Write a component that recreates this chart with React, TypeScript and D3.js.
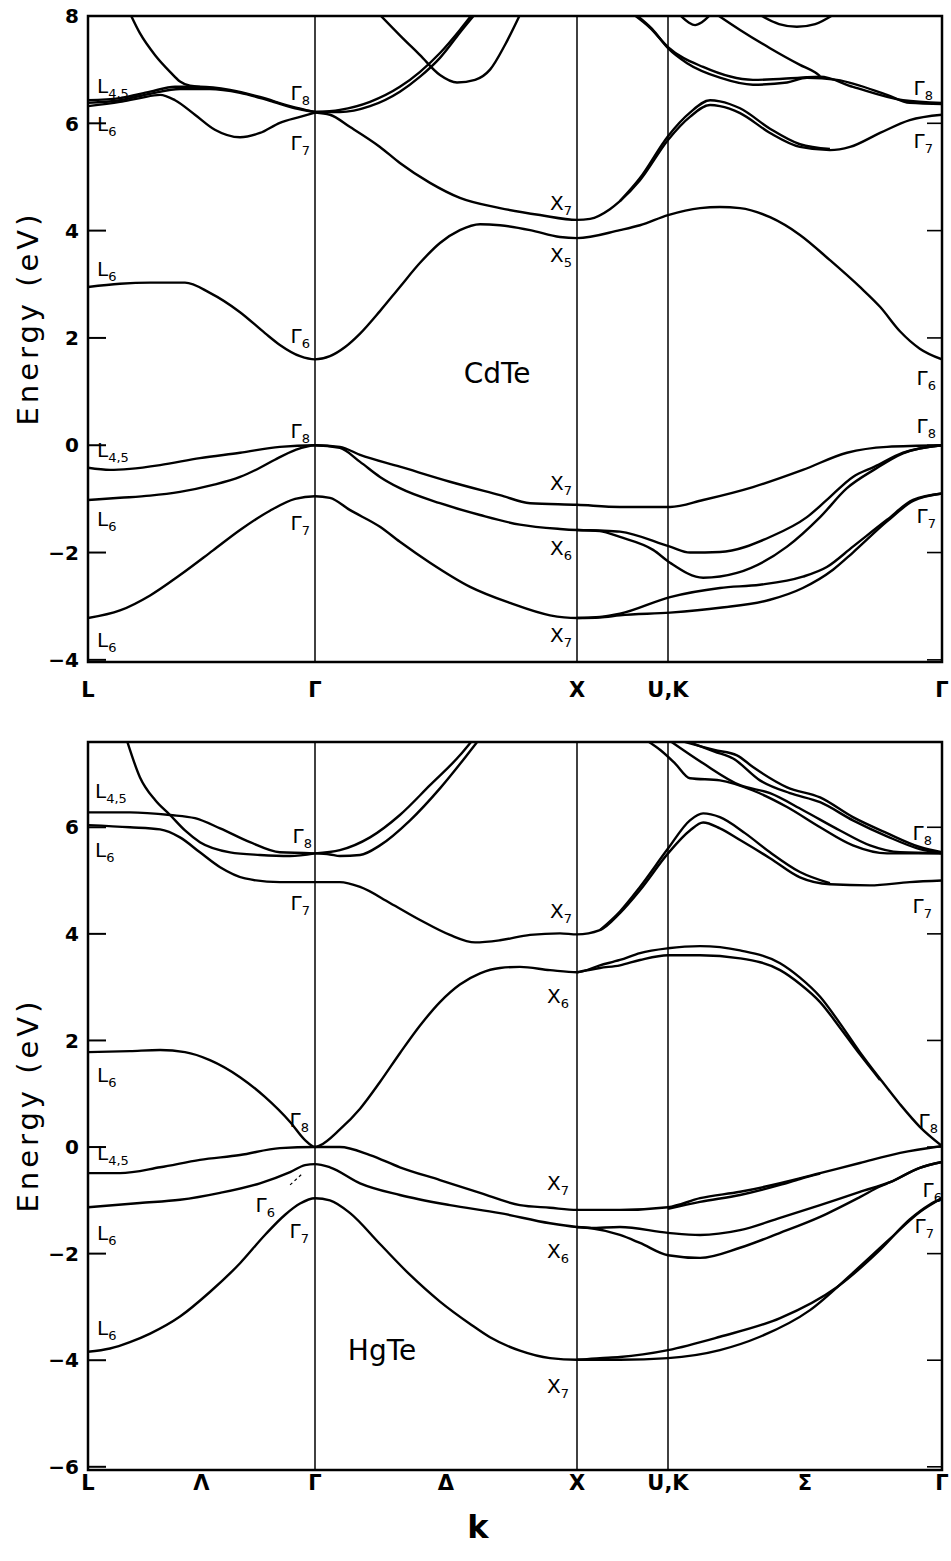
import React from "react";
import * as d3 from "d3";

type Pt = [number, number];

// symmetry points along the k path (units of 2π/a)
const symK = [0, 0.866, 1.866, 2.22, 3.281];
const kLabelsTop = ["L", "Γ", "X", "U,K", "Γ"];
const kLabelsBottom = ["L", "Λ", "Γ", "Δ", "X", "U,K", "Σ", "Γ"];
const kLabelsBottomK = [0, 0.433, 0.866, 1.366, 1.866, 2.22, 2.75, 3.281];
const cdteTicks = [8, 6, 4, 2, 0, -2, -4];
const hgteTicks = [6, 4, 2, 0, -2, -4, -6];

// ---------- CdTe bands ----------
const cdteV3a: Pt[] = [[0,-3.22],[0.122,-3.08],[0.237,-2.8],[0.351,-2.42],[0.477,-1.96],[0.58,-1.58],[0.694,-1.22],[0.79,-1.0],[0.866,-0.95],[0.923,-0.98],[1.0,-1.21],[1.114,-1.52],[1.19,-1.8],[1.305,-2.19],[1.458,-2.64],[1.61,-2.94],[1.763,-3.17],[1.866,-3.22],[1.955,-3.2],[2.033,-3.14],[2.228,-2.83],[2.421,-2.66],[2.576,-2.6],[2.742,-2.45],[2.835,-2.27],[2.936,-1.89],[3.068,-1.39],[3.169,-1.02],[3.281,-0.9]];
const cdteV3b: Pt[] = [[1.866,-3.22],[1.955,-3.21],[2.033,-3.17],[2.228,-3.12],[2.421,-3.03],[2.615,-2.88],[2.742,-2.66],[2.859,-2.32],[2.936,-2.0],[3.068,-1.42],[3.169,-1.04],[3.281,-0.9]];
const cdteV2: Pt[] = [[0,-1.02],[0.122,-0.98],[0.237,-0.94],[0.351,-0.87],[0.477,-0.74],[0.58,-0.59],[0.656,-0.42],[0.713,-0.27],[0.79,-0.09],[0.866,0],[0.961,-0.05],[1.038,-0.31],[1.114,-0.59],[1.19,-0.8],[1.343,-1.08],[1.496,-1.3],[1.648,-1.48],[1.801,-1.56],[1.866,-1.58],[1.955,-1.59],[2.033,-1.61],[2.228,-1.89],[2.305,-2.0],[2.421,-1.99],[2.615,-1.71],[2.758,-1.34],[2.835,-1.02],[2.936,-0.59],[3.02,-0.4],[3.13,-0.14],[3.281,0]];
const cdteV2b: Pt[] = [[1.866,-1.58],[1.955,-1.6],[2.033,-1.71],[2.162,-1.95],[2.228,-2.19],[2.356,-2.47],[2.487,-2.38],[2.681,-1.89],[2.809,-1.34],[2.913,-0.8],[3.02,-0.45],[3.13,-0.15],[3.281,0]];
const cdteV1: Pt[] = [[0,-0.42],[0.084,-0.46],[0.16,-0.44],[0.275,-0.37],[0.427,-0.24],[0.58,-0.14],[0.732,-0.03],[0.866,0],[0.961,-0.03],[1.038,-0.18],[1.19,-0.4],[1.381,-0.68],[1.572,-0.93],[1.687,-1.08],[1.866,-1.11],[2.033,-1.15],[2.228,-1.15],[2.356,-1.02],[2.549,-0.78],[2.742,-0.46],[2.913,-0.14],[3.068,-0.03],[3.281,0]];
const cdteC1: Pt[] = [[0,2.95],[0.122,3.01],[0.237,3.03],[0.37,3.03],[0.465,2.84],[0.58,2.48],[0.675,2.09],[0.732,1.87],[0.809,1.66],[0.866,1.6],[0.923,1.66],[0.981,1.83],[1.038,2.08],[1.114,2.5],[1.19,2.95],[1.267,3.4],[1.343,3.77],[1.419,4.01],[1.496,4.12],[1.572,4.1],[1.687,4.01],[1.801,3.88],[1.866,3.86],[2.033,4.01],[2.111,4.1],[2.22,4.29],[2.344,4.42],[2.421,4.44],[2.499,4.42],[2.615,4.25],[2.731,3.92],[2.847,3.45],[2.963,2.95],[3.041,2.58],[3.119,2.12],[3.195,1.8],[3.281,1.6]];
const cdteC2: Pt[] = [[0.866,6.2],[0.923,6.16],[1.0,5.93],[1.114,5.56],[1.19,5.26],[1.305,4.89],[1.419,4.61],[1.572,4.42],[1.725,4.29],[1.866,4.2],[1.917,4.22],[1.994,4.4],[2.033,4.55],[2.111,4.94],[2.22,5.69],[2.305,6.12],[2.383,6.34],[2.421,6.32],[2.499,6.19],[2.615,5.82],[2.731,5.56],[2.847,5.5],[2.925,5.56],[3.041,5.82],[3.156,6.06],[3.281,6.16]];
const cdteC2b: Pt[] = [[2.033,4.55],[2.111,4.98],[2.22,5.76],[2.305,6.2],[2.383,6.43],[2.421,6.41],[2.499,6.28],[2.615,5.9],[2.731,5.61],[2.847,5.52]];
const cdteC3: Pt[] = [[0,6.43],[0.122,6.47],[0.237,6.59],[0.332,6.68],[0.427,6.68],[0.542,6.62],[0.656,6.49],[0.771,6.32],[0.866,6.21]];
const cdteC3b: Pt[] = [[0,6.38],[0.122,6.43],[0.237,6.55],[0.351,6.64],[0.465,6.64],[0.58,6.57],[0.694,6.42],[0.79,6.28],[0.866,6.21]];
const cdteC4: Pt[] = [[0,6.32],[0.122,6.4],[0.198,6.47],[0.275,6.53],[0.332,6.43],[0.408,6.16],[0.484,5.88],[0.58,5.74],[0.656,5.82],[0.732,6.01],[0.809,6.12],[0.866,6.2]];
const cdteSteep: Pt[] = [[0.16,8.05],[0.198,7.68],[0.256,7.27],[0.313,6.96],[0.351,6.78],[0.389,6.7],[0.427,6.68]];
const cdteG8a: Pt[] = [[0.866,6.21],[0.961,6.25],[1.076,6.4],[1.19,6.68],[1.267,6.96],[1.343,7.31],[1.419,7.74],[1.458,7.98],[1.477,8.1]];
const cdteG8b: Pt[] = [[0.866,6.21],[0.961,6.21],[1.076,6.32],[1.19,6.59],[1.267,6.87],[1.343,7.22],[1.427,7.74],[1.488,8.1]];
const cdteVee: Pt[] = [[1.114,8.02],[1.19,7.64],[1.267,7.27],[1.343,6.9],[1.408,6.76],[1.477,6.81],[1.534,7.0],[1.591,7.46],[1.648,8.02]];
const cdteP: Pt[] = [[2.08,8.05],[2.15,7.78],[2.22,7.42],[2.356,7.05],[2.549,6.81],[2.731,6.85],[2.809,6.87],[2.936,6.68],[3.13,6.43],[3.281,6.38]];
const cdteQ: Pt[] = [[2.088,8.05],[2.158,7.76],[2.22,7.4],[2.294,7.12],[2.421,6.85],[2.549,6.72],[2.681,6.76],[2.758,6.85],[2.874,6.81],[3.068,6.53],[3.156,6.38],[3.281,6.36]];
const cdteR: Pt[] = [[2.402,8.05],[2.499,7.74],[2.615,7.4],[2.731,7.09],[2.789,6.95],[2.809,6.88]];
const cdteArc1: Pt[] = [[2.266,8.02],[2.3,7.88],[2.325,7.83],[2.35,7.88],[2.383,8.02]];
const cdteArc2: Pt[] = [[2.576,8.02],[2.65,7.85],[2.719,7.8],[2.79,7.85],[2.859,8.02]];

// ---------- HgTe bands ----------
const hgA: Pt[] = [[0,6.28],[0.16,6.28],[0.313,6.23],[0.408,6.17],[0.504,5.98],[0.618,5.72],[0.732,5.53],[0.866,5.51]];
const hgB: Pt[] = [[0,6.04],[0.16,6.0],[0.275,5.96],[0.351,5.81],[0.427,5.53],[0.504,5.25],[0.599,5.04],[0.732,4.97],[0.866,4.97],[0.961,4.97],[1.038,4.88],[1.152,4.58],[1.267,4.26],[1.381,3.98],[1.477,3.84],[1.572,3.88],[1.687,3.98],[1.801,4.01],[1.866,3.99],[1.955,4.07],[2.033,4.39],[2.111,4.82],[2.22,5.51],[2.305,5.94],[2.356,6.09],[2.421,5.98],[2.499,5.76],[2.615,5.42],[2.731,5.06],[2.847,4.93],[3.002,4.91],[3.156,4.97],[3.281,5.0]];
const hgBb: Pt[] = [[1.955,4.07],[2.033,4.42],[2.111,4.88],[2.22,5.6],[2.305,6.13],[2.356,6.26],[2.421,6.19],[2.518,5.89],[2.615,5.53],[2.731,5.16],[2.847,4.95]];
const hgSteep: Pt[] = [[0.149,7.62],[0.198,6.94],[0.256,6.51],[0.313,6.23],[0.37,5.94],[0.427,5.72],[0.542,5.53],[0.656,5.48],[0.771,5.46],[0.866,5.51]];
const hgG8a: Pt[] = [[0.866,5.51],[0.961,5.57],[1.076,5.81],[1.19,6.23],[1.305,6.79],[1.419,7.35],[1.465,7.62]];
const hgG8b: Pt[] = [[0.866,5.51],[0.923,5.49],[0.961,5.46],[1.038,5.48],[1.114,5.66],[1.229,6.13],[1.343,6.73],[1.439,7.31],[1.488,7.62]];
const hgP: Pt[] = [[2.14,7.62],[2.19,7.45],[2.247,7.2],[2.305,6.92],[2.421,6.88],[2.549,6.69],[2.681,6.38],[2.809,6.0],[2.936,5.66],[3.068,5.51],[3.281,5.51]];
const hgQ: Pt[] = [[2.228,7.62],[2.356,7.2],[2.499,6.79],[2.615,6.64],[2.743,6.32],[2.886,5.94],[3.002,5.66],[3.119,5.53],[3.281,5.51]];
const hgR: Pt[] = [[2.27,7.62],[2.4,7.45],[2.487,7.35],[2.549,7.13],[2.681,6.75],[2.809,6.56],[2.936,6.19],[3.068,5.89],[3.195,5.63],[3.281,5.53]];
const hgS: Pt[] = [[2.29,7.62],[2.4,7.42],[2.472,7.29],[2.576,6.88],[2.692,6.64],[2.809,6.47],[2.936,6.13],[3.068,5.83],[3.195,5.59],[3.281,5.51]];
const hgC: Pt[] = [[0,1.78],[0.16,1.8],[0.275,1.82],[0.37,1.78],[0.465,1.63],[0.58,1.31],[0.675,0.94],[0.771,0.47],[0.828,0.13],[0.866,0],[0.885,0.03],[0.961,0.33],[1.038,0.72],[1.114,1.22],[1.19,1.76],[1.267,2.28],[1.343,2.72],[1.419,3.05],[1.496,3.26],[1.572,3.36],[1.648,3.38],[1.763,3.32],[1.866,3.28],[1.955,3.41],[2.033,3.51],[2.111,3.64],[2.22,3.73],[2.344,3.77],[2.499,3.69],[2.654,3.45],[2.731,3.18],[2.809,2.82],[2.886,2.32],[2.963,1.78],[3.041,1.28],[3.119,0.8],[3.195,0.38],[3.281,0.02]];
const hgCb: Pt[] = [[1.866,3.28],[1.955,3.36],[2.033,3.41],[2.111,3.51],[2.22,3.6],[2.344,3.6],[2.499,3.54],[2.654,3.32],[2.731,3.06],[2.809,2.72],[2.886,2.24],[2.963,1.74],[3.041,1.26]];
const hgV1: Pt[] = [[0,-0.49],[0.122,-0.49],[0.275,-0.38],[0.427,-0.24],[0.58,-0.15],[0.732,-0.02],[0.866,0],[0.961,0],[1.076,-0.15],[1.19,-0.38],[1.343,-0.62],[1.496,-0.86],[1.648,-1.09],[1.763,-1.14],[1.866,-1.18],[2.033,-1.18],[2.22,-1.13],[2.344,-0.96],[2.499,-0.84],[2.654,-0.68],[2.809,-0.49],[2.963,-0.3],[3.119,-0.11],[3.281,0.02]];
const hgV1b: Pt[] = [[2.22,-1.16],[2.344,-1.03],[2.499,-0.9],[2.654,-0.71],[2.731,-0.6],[2.809,-0.5]];
const hgV2: Pt[] = [[0,-1.13],[0.198,-1.05],[0.351,-0.99],[0.504,-0.86],[0.656,-0.68],[0.771,-0.47],[0.828,-0.34],[0.866,-0.32],[0.923,-0.38],[1.038,-0.68],[1.19,-0.9],[1.381,-1.09],[1.572,-1.24],[1.763,-1.43],[1.866,-1.5],[1.917,-1.52],[2.033,-1.5],[2.22,-1.61],[2.344,-1.65],[2.499,-1.56],[2.654,-1.33],[2.809,-1.09],[2.963,-0.84],[3.08,-0.66],[3.195,-0.39],[3.281,-0.28]];
const hgV2b: Pt[] = [[1.866,-1.5],[1.917,-1.52],[2.033,-1.65],[2.111,-1.8],[2.22,-2.03],[2.344,-2.08],[2.499,-1.89],[2.654,-1.61],[2.809,-1.31],[2.963,-0.94],[3.041,-0.74],[3.08,-0.66],[3.195,-0.39],[3.281,-0.28]];
const hgV3: Pt[] = [[0,-3.84],[0.084,-3.78],[0.16,-3.66],[0.237,-3.5],[0.351,-3.18],[0.465,-2.72],[0.58,-2.18],[0.675,-1.65],[0.752,-1.27],[0.809,-1.06],[0.866,-0.96],[0.923,-1.0],[1.0,-1.24],[1.114,-1.82],[1.229,-2.4],[1.343,-2.9],[1.458,-3.32],[1.534,-3.57],[1.648,-3.82],[1.763,-3.96],[1.866,-3.99],[1.955,-3.96],[2.033,-3.94],[2.22,-3.81],[2.421,-3.56],[2.654,-3.21],[2.874,-2.63],[3.041,-1.93],[3.156,-1.36],[3.234,-1.08],[3.281,-0.96]];
const hgV3b: Pt[] = [[1.866,-3.99],[1.955,-3.99],[2.033,-3.99],[2.22,-3.96],[2.421,-3.81],[2.576,-3.56],[2.77,-3.06],[2.936,-2.36],[3.08,-1.72],[3.195,-1.22],[3.281,-0.96]];
const hgArrow: Pt[] = [[0.771,-0.71],[0.82,-0.49]];

const cdteBands = [cdteV3a, cdteV3b, cdteV2, cdteV2b, cdteV1, cdteC1, cdteC2, cdteC2b, cdteC3, cdteC3b, cdteC4, cdteSteep, cdteG8a, cdteG8b, cdteVee, cdteP, cdteQ, cdteR, cdteArc1, cdteArc2];
const hgteBands = [hgA, hgB, hgBb, hgSteep, hgG8a, hgG8b, hgP, hgQ, hgR, hgS, hgC, hgCb, hgV1, hgV1b, hgV2, hgV2b, hgV3, hgV3b];

// state labels: symbol, subscript, symmetry point index, energy, anchor, dx
type Lab = [string, string, number, number, string, number];
const cdteLabels: Lab[] = [
  ["L", "4,5", 0, 6.56, "start", 9], ["L", "6", 0, 5.85, "start", 9], ["L", "6", 0, 3.16, "start", 9],
  ["L", "4,5", 0, -0.22, "start", 9], ["L", "6", 0, -1.5, "start", 9], ["L", "6", 0, -3.76, "start", 9],
  ["Γ", "8", 1, 6.43, "end", -5], ["Γ", "7", 1, 5.5, "end", -5], ["Γ", "6", 1, 1.9, "end", -5],
  ["Γ", "8", 1, 0.14, "end", -5], ["Γ", "7", 1, -1.58, "end", -5],
  ["X", "7", 2, 4.38, "end", -5], ["X", "5", 2, 3.42, "end", -5], ["X", "7", 2, -0.83, "end", -5],
  ["X", "6", 2, -2.04, "end", -5], ["X", "7", 2, -3.67, "end", -5],
  ["Γ", "8", 4, 6.53, "end", -9], ["Γ", "7", 4, 5.54, "end", -9], ["Γ", "6", 4, 1.12, "end", -6],
  ["Γ", "8", 4, 0.23, "end", -6], ["Γ", "7", 4, -1.45, "end", -6],
];
const hgteLabels: Lab[] = [
  ["L", "4,5", 0, 6.54, "start", 7], ["L", "6", 0, 5.44, "start", 7], ["L", "6", 0, 1.22, "start", 9],
  ["L", "4,5", 0, -0.24, "start", 9], ["L", "6", 0, -1.74, "start", 9], ["L", "6", 0, -3.53, "start", 9],
  ["Γ", "8", 1, 5.7, "end", -3], ["Γ", "7", 1, 4.44, "end", -5], ["Γ", "8", 1, 0.38, "end", -6],
  ["Γ", "6", 1, -1.22, "end", -40], ["Γ", "7", 1, -1.71, "end", -6],
  ["X", "7", 2, 4.29, "end", -5], ["X", "6", 2, 2.7, "end", -8], ["X", "7", 2, -0.81, "end", -8],
  ["X", "6", 2, -2.08, "end", -8], ["X", "7", 2, -4.61, "end", -8],
  ["Γ", "8", 4, 5.76, "end", -10], ["Γ", "7", 4, 4.39, "end", -10], ["Γ", "8", 4, 0.36, "end", -4],
  ["Γ", "6", 4, -0.94, "end", 0], ["Γ", "7", 4, -1.61, "end", -8],
];

const FONT = "DejaVu Sans, Liberation Sans, sans-serif";
const LEFT = 88, RIGHT = 942;
const x = d3.scaleLinear().domain(symK).range([LEFT, 315, 577, 668, RIGHT]);

type PanelProps = {
  id: string;
  bands: Pt[][];
  labels: Lab[];
  yDomain: [number, number];
  yRange: [number, number];
  ticks: number[];
  material: string;
  matK: number;
  matE: number;
  yLabelY: number;
  dashed?: Pt[];
};

function Panel(p: PanelProps) {
  const y = d3.scaleLinear().domain(p.yDomain).range(p.yRange);
  const line = d3.line<Pt>().x((d) => x(d[0])).y((d) => y(d[1])).curve(d3.curveMonotoneX);
  const [y0, y1] = [p.yRange[1], p.yRange[0]];
  return (
    <g>
      <defs>
        <clipPath id={p.id}>
          <rect x={LEFT} y={y0} width={RIGHT - LEFT} height={y1 - y0} />
        </clipPath>
      </defs>
      {/* symmetry lines */}
      {symK.slice(1, 4).map((k, i) => (
        <line key={i} x1={x(k)} x2={x(k)} y1={y0} y2={y1} stroke="#111" strokeWidth={1.6} />
      ))}
      <g clipPath={`url(#${p.id})`} fill="none" stroke="#000" strokeWidth={2.4} strokeLinejoin="round">
        {p.bands.map((b, i) => (
          <path key={i} d={line(b) || ""} />
        ))}
        {p.dashed && (
          <path d={d3.line<Pt>().x((d) => x(d[0])).y((d) => y(d[1]))(p.dashed) || ""} strokeWidth={1.2} strokeDasharray="3,3" />
        )}
      </g>
      <rect x={LEFT} y={y0} width={RIGHT - LEFT} height={y1 - y0} fill="none" stroke="#000" strokeWidth={2.5} />
      {/* ticks */}
      {p.ticks.map((t) => (
        <g key={t}>
          {y(t) > y0 + 2 && y(t) < y1 - 2 && (
            <>
              <line x1={LEFT} x2={LEFT + 18} y1={y(t)} y2={y(t)} stroke="#000" strokeWidth={2} />
              <line x1={RIGHT - 15} x2={RIGHT} y1={y(t)} y2={y(t)} stroke="#000" strokeWidth={1.6} />
            </>
          )}
          <text x={79} y={y(t)} dy="0.36em" textAnchor="end" fontFamily={FONT} fontWeight="bold" fontSize={20}>
            {t < 0 ? `−${-t}` : t}
          </text>
        </g>
      ))}
      {/* state labels */}
      {p.labels.map((l, i) => (
        <text key={i} x={x(symK[l[2]]) + l[5]} y={y(l[3])} textAnchor={l[4]} fontFamily={FONT} fontSize={20}>
          {l[0]}
          <tspan fontSize={13} dy={5}>{l[1]}</tspan>
        </text>
      ))}
      <text x={x(p.matK)} y={y(p.matE)} textAnchor="middle" fontFamily={FONT} fontSize={28}>
        {p.material}
      </text>
      <text
        transform={`translate(38,${p.yLabelY}) rotate(-90)`}
        textAnchor="middle"
        fontFamily={FONT}
        fontSize={29}
        letterSpacing={4}
      >
        Energy (eV)
      </text>
    </g>
  );
}

export default function App() {
  return (
    <svg width={951} height={1561} style={{ position: "absolute", left: 0, top: 0, background: "#fff" }}>
      <Panel
        id="clipTop"
        bands={cdteBands}
        labels={cdteLabels}
        yDomain={[-4.04, 8]}
        yRange={[662, 16]}
        ticks={cdteTicks}
        material="CdTe"
        matK={1.561}
        matE={1.16}
        yLabelY={318}
      />
      {kLabelsTop.map((s, i) => (
        <text key={i} x={x(symK[i])} y={697} textAnchor="middle" fontFamily={FONT} fontWeight="bold" fontSize={21}>
          {s}
        </text>
      ))}
      <Panel
        id="clipBottom"
        bands={hgteBands}
        labels={hgteLabels}
        yDomain={[-6.06, 7.6]}
        yRange={[1470, 742]}
        ticks={hgteTicks}
        material="HgTe"
        matK={1.122}
        matE={-3.99}
        yLabelY={1105}
        dashed={hgArrow}
      />
      {kLabelsBottom.map((s, i) => (
        <text key={i} x={x(kLabelsBottomK[i])} y={1490} textAnchor="middle" fontFamily={FONT} fontWeight="bold" fontSize={21}>
          {s}
        </text>
      ))}
      <text x={478} y={1538} textAnchor="middle" fontFamily={FONT} fontWeight="bold" fontSize={32}>
        k
      </text>
    </svg>
  );
}
